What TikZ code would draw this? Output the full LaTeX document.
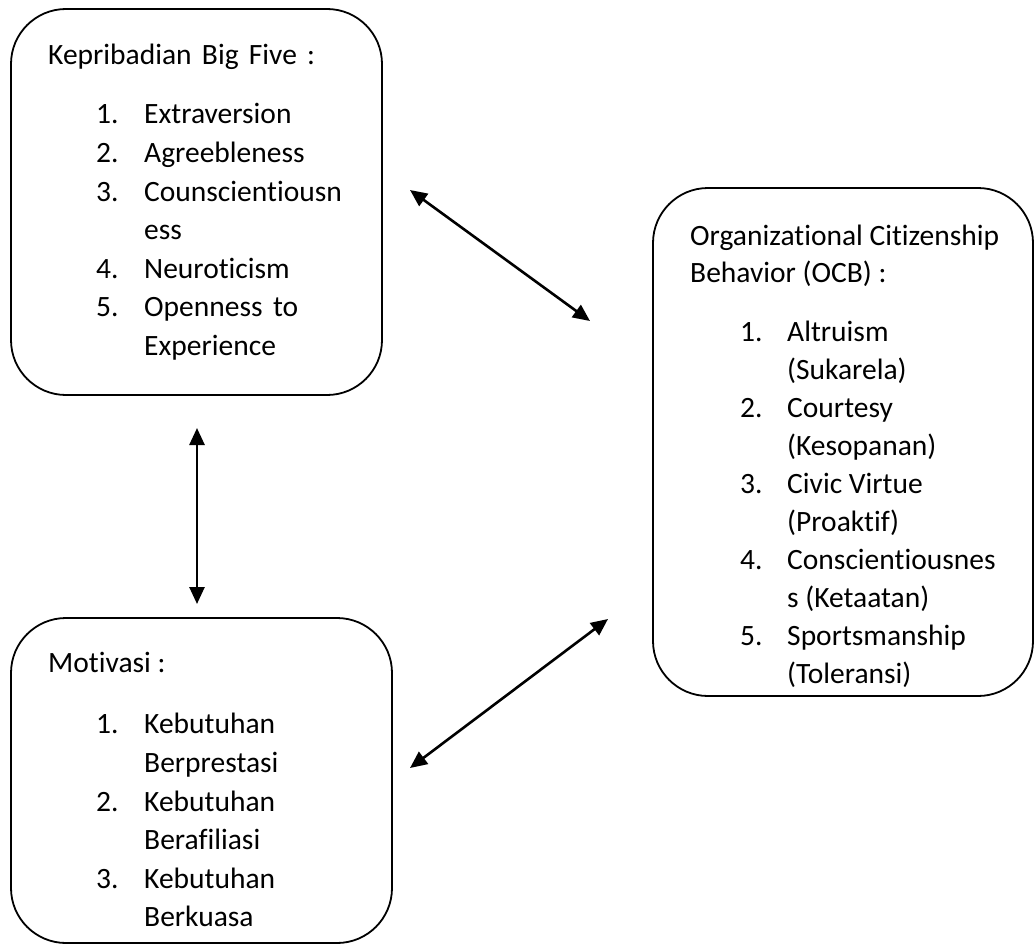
\documentclass[tikz,border=0pt]{standalone}
\usepackage{fontspec}
\setmainfont{Carlito}[Ligatures={NoCommon}]
\usetikzlibrary{arrows.meta}
\begin{document}
\begin{tikzpicture}[x=1pt,y=-1pt,
  box/.style={draw,line width=1.8pt,rounded corners=55pt,inner sep=0pt},
  txt/.style={anchor=base west,inner sep=0pt,font=\fontsize{29.5}{34}\selectfont},
  link/.style={line width=2.6pt,{Triangle[length=17pt,width=15pt]}-{Triangle[length=17pt,width=15pt]}}]
\useasboundingbox (0,0) rectangle (1035,950);
% boxes
\node[box,minimum width=371pt,minimum height=386pt] (big) at (196.5,202) {};
\node[box,minimum width=380pt,minimum height=508pt] (ocb) at (843,442) {};
\node[box,minimum width=381pt,minimum height=325pt] (mot) at (201.5,780.5) {};
% box 1 text
\node[txt] (t1h) at (48,64) {\makebox[267pt][s]{Kepribadian Big Five :}};
\node[txt] (t1n1) at (96,123) {1.};
\node[txt] (t1a) at (144,123) {Extraversion};
\node[txt] (t1n2) at (96,162) {2.};
\node[txt] (t1b) at (144,162) {Agreebleness};
\node[txt] (t1n3) at (96,201) {3.};
\node[txt] (t1c) at (144,201) {Counscientiousn};
\node[txt] (t1c2) at (144,239) {ess};
\node[txt] (t1n4) at (96,278) {4.};
\node[txt] (t1d) at (144,278) {Neuroticism};
\node[txt] (t1n5) at (96,316) {5.};
\node[txt] (t1e) at (144,316) {\makebox[154pt][s]{Openness to}};
\node[txt] (t1e2) at (144,355) {Experience};
% box 2 text
\node[txt] (t2h) at (690,245) {Organizational Citizenship};
\node[txt] (t2h2) at (690,282) {Behavior (OCB) :};
\node[txt] (t2n1) at (740,341) {1.};
\node[txt] (t2a) at (787,341) {Altruism};
\node[txt] (t2a2) at (787,379) {(Sukarela)};
\node[txt] (t2n2) at (740,417) {2.};
\node[txt] (t2b) at (787,417) {Courtesy};
\node[txt] (t2b2) at (787,455) {(Kesopanan)};
\node[txt] (t2n3) at (740,493) {3.};
\node[txt] (t2c) at (787,493) {Civic Virtue};
\node[txt] (t2c2) at (787,531) {(Proaktif)};
\node[txt] (t2n4) at (740,569) {4.};
\node[txt] (t2d) at (787,569) {Conscientiousnes};
\node[txt] (t2d2) at (787,607) {s (Ketaatan)};
\node[txt] (t2n5) at (740,645) {5.};
\node[txt] (t2e) at (787,645) {Sportsmanship};
\node[txt] (t2e2) at (787,683) {(Toleransi)};
% box 3 text
\node[txt] (t3h) at (48,672) {Motivasi :};
\node[txt] (t3n1) at (96,733) {1.};
\node[txt] (t3a) at (144,733) {Kebutuhan};
\node[txt] (t3a2) at (144,772) {Berprestasi};
\node[txt] (t3n2) at (96,811) {2.};
\node[txt] (t3b) at (144,811) {Kebutuhan};
\node[txt] (t3b2) at (144,849) {Berafiliasi};
\node[txt] (t3n3) at (96,888) {3.};
\node[txt] (t3c) at (144,888) {Kebutuhan};
\node[txt] (t3c2) at (144,926) {Berkuasa};
% arrows
\coordinate (a1s) at (410,190);
\coordinate (a1e) at (590,321);
\coordinate (a2s) at (197,428);
\coordinate (a2e) at (197,604);
\coordinate (a3s) at (410,768);
\coordinate (a3e) at (608,619);
\draw[link] (a1s) -- (a1e);
\draw[link] (a2s) -- (a2e);
\draw[link] (a3s) -- (a3e);
\end{tikzpicture}
\end{document}
